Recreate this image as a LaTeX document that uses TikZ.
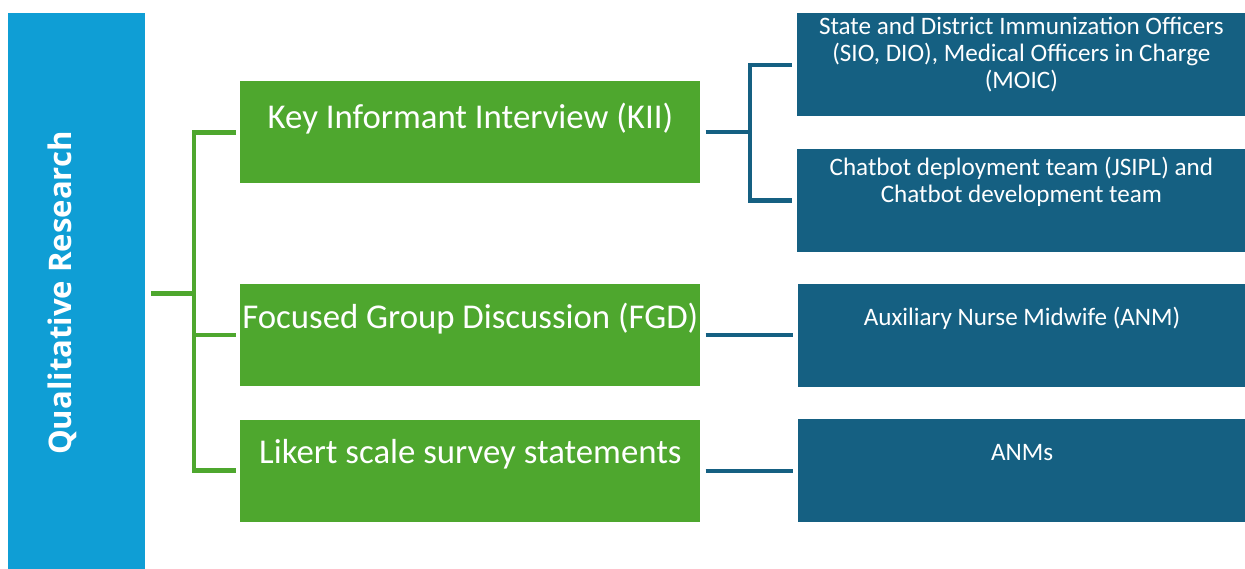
\documentclass[tikz,border=0pt]{standalone}
\usepackage{fontspec}
\setmainfont{Carlito}
\newfontfamily\headfont{Open Sans}
\usetikzlibrary{positioning}
\definecolor{qblue}{HTML}{0F9ED5}
\definecolor{qgreen}{HTML}{4EA72E}
\definecolor{qdark}{HTML}{156082}
\begin{document}
\begin{tikzpicture}[
  rootbox/.style={fill=qblue, minimum width=2.74cm, minimum height=11.2cm, inner sep=0},
  rootlbl/.style={text=white, font=\headfont\bfseries\fontsize{17.7}{21}\selectfont, rotate=90, anchor=base},
  gbox/.style={fill=qgreen, minimum width=9.2cm, minimum height=2.04cm, inner sep=0},
  dbox/.style={fill=qdark, minimum width=8.96cm, minimum height=2.06cm, inner sep=0},
  gtxt/.style={text=white, font=\fontsize{19.8}{24}\selectfont, anchor=base, inner sep=0},
  dtxt/.style={text=white, font=\fontsize{14.3}{15.3}\selectfont, align=center, anchor=base, inner sep=0},
  gline/.style={draw=qgreen, line width=2.6pt},
  bline/.style={draw=qdark, line width=2.4pt}
]
\useasboundingbox (0,0) rectangle (24.9,-11.36);

% left column
\node[rootbox, anchor=north west] (root) at (0.16,-0.26) {};
\node[rootlbl] (roott) at (1.44,-5.86) {Qualitative Research};

% methods
\node[gbox, anchor=north west] (kii) at (4.8,-1.62) {};
\node[gbox, below=2cm of kii] (fgd) {};
\node[gbox, below=0.66cm of fgd] (lik) {};
\node[gtxt] (kiit) at ([yshift=-0.94cm]kii.north) {Key Informant Interview (KII)};
\node[gtxt] (fgdt) at ([yshift=-0.9cm]fgd.north) {Focused Group Discussion (FGD)};
\node[gtxt] (likt) at ([yshift=-0.88cm]lik.north) {Likert scale survey statements};

% participants (base = last line)
\node[dbox, anchor=north west] (moic) at (15.94,-0.26) {};
\node[dbox, below=0.64cm of moic] (chat) {};
\node[dbox, right=1.94cm of fgd] (anm) {};
\node[dbox, right=1.94cm of lik] (anms) {};
\node[dtxt] (moict) at ([yshift=-1.5cm]moic.north) {State and District Immunization Officers\\(SIO, DIO), Medical Officers in Charge\\(MOIC)};
\node[dtxt] (chatt) at ([yshift=-1.08cm]chat.north) {Chatbot deployment team (JSIPL) and\\Chatbot development team};
\node[dtxt] (anmt) at ([yshift=-0.84cm]anm.north) {Auxiliary Nurse Midwife (ANM)};
\node[dtxt] (anmst) at ([yshift=-0.83cm]anms.north) {ANMs};

% green bracket
\draw[gline] ([xshift=0.11cm]root.east) -- ++(0.86,0) coordinate (gsp);
\draw[gline] ([xshift=-0.08cm]kii.west) -| (gsp) |- ([xshift=-0.08cm]lik.west);
\draw[gline] (gsp |- fgd.west) -- ([xshift=-0.08cm]fgd.west);

% blue bracket and links
\draw[bline] ([xshift=0.1cm]kii.east) -- ++(0.88,0) coordinate (bsp);
\draw[bline] ([xshift=-0.1cm]moic.west) -| (bsp) |- ([xshift=-0.1cm]chat.west);
\draw[bline] ([xshift=0.1cm]fgd.east) -- ([xshift=-0.1cm]anm.west);
\draw[bline] ([xshift=0.1cm]lik.east) -- ([xshift=-0.1cm]anms.west);
\end{tikzpicture}
\end{document}
